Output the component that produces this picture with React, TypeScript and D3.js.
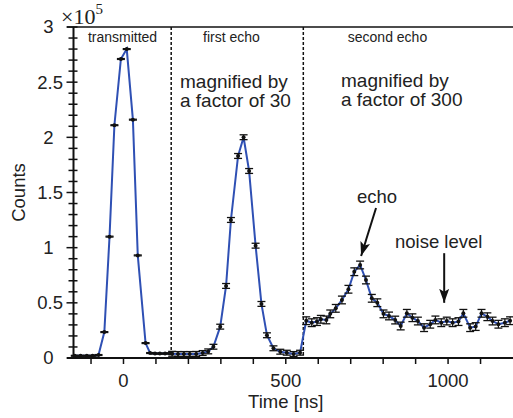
import React from "react";
import * as d3 from "d3";

// transmitted pulse (counts x 1e5)
const transTime = [-150, -132, -113, -95, -77, -59, -43, -28, -8, 10, 29, 44, 68, 82, 97, 112, 128, 142];
const transCounts = [0.02, 0.02, 0.02, 0.02, 0.027, 0.235, 1.1, 2.11, 2.71, 2.8, 2.16, 0.93, 0.135, 0.045, 0.04, 0.04, 0.04, 0.042];

// first echo, magnified x30
const echo1Time = [150, 168, 186, 204, 224, 244, 261, 277, 298, 316, 331, 353, 370, 387, 407, 425, 442, 462, 483, 503, 524, 544];
const echo1Counts = [0.038, 0.036, 0.036, 0.036, 0.037, 0.045, 0.06, 0.102, 0.284, 0.653, 1.251, 1.831, 2.001, 1.695, 1.018, 0.49, 0.206, 0.088, 0.057, 0.048, 0.036, 0.048];

// second echo, magnified x300
const echo2Time = [563, 580, 596, 608, 625, 637, 654, 673, 693, 711, 729, 747, 765, 782, 801, 818, 837, 854, 873, 890, 907, 926, 945, 961, 979, 996, 1014, 1032, 1047, 1068, 1085, 1103, 1121, 1137, 1155, 1175, 1191];
const echo2Counts = [0.338, 0.32, 0.33, 0.351, 0.345, 0.4, 0.45, 0.526, 0.623, 0.782, 0.843, 0.707, 0.541, 0.501, 0.4, 0.381, 0.344, 0.29, 0.405, 0.365, 0.335, 0.275, 0.306, 0.345, 0.32, 0.335, 0.32, 0.33, 0.405, 0.275, 0.285, 0.405, 0.374, 0.335, 0.306, 0.32, 0.338];

// rough error bar half-heights
const seriesErr = [0.004, 0.022, 0.035];

const xTicks = [-100, 0, 100, 200, 300, 400, 500, 600, 700, 800, 900, 1000, 1100];
const xLabels = [0, 500, 1000];
const yLabels = [0, 0.5, 1, 1.5, 2, 2.5, 3];
const sectionBounds = [147, 554];

const W = 513;
const H = 418;
const FONT = "'Liberation Sans', Arial, sans-serif";

const App = () => {
  const x = d3.scaleLinear().domain([-154, 1200]).range([73.5, 513]);
  const y = d3.scaleLinear().domain([0, 3]).range([358, 27]);

  const series = [
    transTime.map((t, i) => [t, transCounts[i]]),
    echo1Time.map((t, i) => [t, echo1Counts[i]]),
    echo2Time.map((t, i) => [t, echo2Counts[i]]),
  ];
  const all = series.flat();

  const line = d3
    .line<number[]>()
    .x((d) => x(d[0]))
    .y((d) => y(d[1]));

  const yMinor = d3.range(0, 3.001, 0.1);
  const left = x(-154);
  const top = y(3);
  const bottom = y(0);

  return (
    <svg
      width={W}
      height={H}
      style={{ position: "absolute", left: 0, top: 0, background: "#fff" }}
      fontFamily={FONT}
    >
      <defs>
        <marker
          id="arr"
          markerUnits="userSpaceOnUse"
          markerWidth={16}
          markerHeight={12}
          refX={14}
          refY={5}
          orient="auto"
        >
          <path d="M0,0 L14,5 L0,10 L3,5 z" fill="#111" />
        </marker>
      </defs>

      {/* frame */}
      <line x1={67} x2={W} y1={top} y2={top} stroke="#111" strokeWidth={1.6} />
      <line x1={left} x2={left} y1={top} y2={bottom} stroke="#111" strokeWidth={2} />
      <line x1={67} x2={W} y1={bottom} y2={bottom} stroke="#111" strokeWidth={2} />

      {/* section separators */}
      {sectionBounds.map((b) => (
        <line
          key={b}
          x1={x(b)}
          x2={x(b)}
          y1={top}
          y2={bottom}
          stroke="#111"
          strokeWidth={1.5}
          strokeDasharray="3,2"
        />
      ))}

      {/* y ticks */}
      {yMinor.map((v, i) => (
        <line
          key={"ym" + i}
          x1={i % 5 === 0 ? left - 7 : left - 5}
          x2={left + 4}
          y1={y(v)}
          y2={y(v)}
          stroke="#111"
          strokeWidth={1.5}
        />
      ))}
      {/* labels aligned on the decimal point */}
      {yLabels.map((v) => (
        <text
          key={"yl" + v}
          x={Number.isInteger(v) ? 53.5 : 63}
          y={y(v)}
          dy="0.35em"
          textAnchor="end"
          fontSize={18.5}
          fill="#222"
        >
          {v}
        </text>
      ))}

      {/* x ticks */}
      {xTicks.map((t) => (
        <line key={"xt" + t} x1={x(t)} x2={x(t)} y1={bottom} y2={bottom + 6} stroke="#111" strokeWidth={1.5} />
      ))}
      {xLabels.map((t) => (
        <text key={"xl" + t} x={x(t)} y={387} textAnchor="middle" fontSize={18.5} fill="#222">
          {t}
        </text>
      ))}

      <text x={x(500)} y={408} textAnchor="middle" fontSize={18.5} fill="#222">
        Time [ns]
      </text>
      <text transform={`translate(25,${(top + bottom) / 2}) rotate(-90)`} textAnchor="middle" fontSize={18.5} fill="#222">
        Counts
      </text>

      {/* exponent */}
      <text x={61} y={23.5} fontFamily="'Liberation Serif', serif" fontSize={22} fill="#222">
        ×10
        <tspan dy={-10} fontSize={15}>
          5
        </tspan>
      </text>

      {/* section headings */}
      <text x={122.5} y={42} textAnchor="middle" fontSize={14} fill="#222">transmitted</text>
      <text x={231.5} y={42} textAnchor="middle" fontSize={14} fill="#222">first echo</text>
      <text x={387.5} y={42} textAnchor="middle" fontSize={14} fill="#222">second echo</text>

      <text x={180} y={88} fontSize={19} fill="#222">magnified by</text>
      <text x={180} y={107} fontSize={19} fill="#222">a factor of 30</text>
      <text x={341} y={87} fontSize={19} fill="#222">magnified by</text>
      <text x={341} y={106} fontSize={19} fill="#222">a factor of 300</text>

      {/* data line */}
      <path d={line(all) || ""} fill="none" stroke="#2f50b4" strokeWidth={2} />

      {/* markers with error bars */}
      {series.map((s, si) =>
        s.map((d, i) => {
          const cx = x(d[0]);
          const e = seriesErr[si];
          const y1 = y(d[1] + e);
          const y2 = y(d[1] - e);
          return (
            <g key={si + "-" + i}>
              <line x1={cx} x2={cx} y1={y1} y2={y2} stroke="#111" strokeWidth={1.2} />
              <line x1={cx - 4} x2={cx + 4} y1={y1} y2={y1} stroke="#111" strokeWidth={1.3} />
              <line x1={cx - 4} x2={cx + 4} y1={y2} y2={y2} stroke="#111" strokeWidth={1.3} />
              <circle cx={cx} cy={y(d[1])} r={2} fill="#111" />
            </g>
          );
        })
      )}

      {/* annotations */}
      <text x={357} y={203} fontSize={18.5} fill="#222">echo</text>
      <line x1={x(778)} y1={y(1.36)} x2={x(732)} y2={y(0.925)} stroke="#111" strokeWidth={2} markerEnd="url(#arr)" />
      <text x={395} y={248} fontSize={18.5} fill="#222">noise level</text>
      <line x1={x(988)} y1={y(0.95)} x2={x(988)} y2={y(0.5)} stroke="#111" strokeWidth={2} markerEnd="url(#arr)" />
    </svg>
  );
};

export default App;
